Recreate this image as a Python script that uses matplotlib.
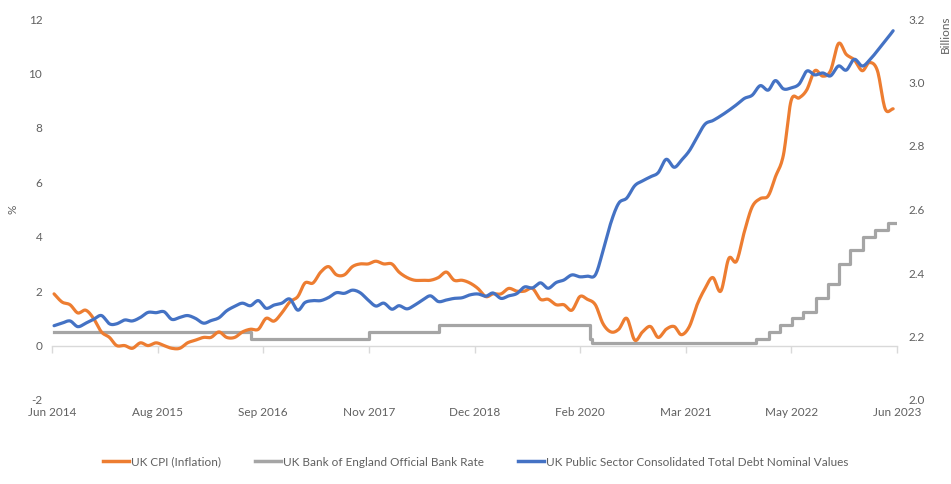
import numpy as np
import pandas as pd
import matplotlib
matplotlib.use('Agg')
import matplotlib.pyplot as plt
import matplotlib.dates as mdates
from matplotlib.lines import Line2D

# ---------------- data ----------------
months = pd.date_range('2014-06-30', periods=108, freq='ME')

cpi = [1.9, 1.6, 1.5, 1.2, 1.3, 1.0, 0.5,
       0.3, 0.0, 0.0, -0.1, 0.1, 0.0, 0.1, 0.0, -0.1, -0.1, 0.1, 0.2,
       0.3, 0.3, 0.5, 0.3, 0.3, 0.5, 0.6, 0.6, 1.0, 0.9, 1.2, 1.6,
       1.8, 2.3, 2.3, 2.7, 2.9, 2.6, 2.6, 2.9, 3.0, 3.0, 3.1, 3.0,
       3.0, 2.7, 2.5, 2.4, 2.4, 2.4, 2.5, 2.7, 2.4, 2.4, 2.3, 2.1,
       1.8, 1.9, 1.9, 2.1, 2.0, 2.0, 2.1, 1.7, 1.7, 1.5, 1.5, 1.3,
       1.8, 1.7, 1.5, 0.8, 0.5, 0.6, 1.0, 0.2, 0.5, 0.7, 0.3, 0.6,
       0.7, 0.4, 0.7, 1.5, 2.1, 2.5, 2.0, 3.2, 3.1, 4.2, 5.1, 5.4,
       5.5, 6.2, 7.0, 9.0, 9.1, 9.4, 10.1, 9.9, 10.1, 11.1, 10.7, 10.5,
       10.1, 10.4, 10.1, 8.7, 8.7]

debt = [2.234, 2.242, 2.249, 2.231, 2.242, 2.254, 2.266, 2.240, 2.240, 2.252,
        2.249, 2.260, 2.276, 2.275, 2.278, 2.254, 2.260, 2.266, 2.257, 2.242,
        2.250, 2.259, 2.281, 2.295, 2.305, 2.297, 2.313, 2.289, 2.299, 2.305,
        2.318, 2.283, 2.307, 2.313, 2.313, 2.323, 2.338, 2.336, 2.346, 2.338,
        2.315, 2.296, 2.305, 2.286, 2.297, 2.287, 2.299, 2.315, 2.328, 2.310,
        2.315, 2.320, 2.322, 2.331, 2.334, 2.327, 2.337, 2.320, 2.328, 2.335,
        2.356, 2.353, 2.369, 2.352, 2.370, 2.378, 2.394, 2.388, 2.390, 2.394,
        2.470, 2.560, 2.620, 2.636, 2.675, 2.690, 2.703, 2.716, 2.758, 2.733,
        2.755, 2.785, 2.828, 2.869, 2.880, 2.895, 2.912, 2.930, 2.950, 2.960,
        2.990, 2.976, 3.006, 2.980, 2.983, 2.995, 3.036, 3.024, 3.030, 3.021,
        3.052, 3.039, 3.073, 3.052, 3.070, 3.100, 3.130, 3.163]

rate_dates = ['2014-06-30', '2016-08-04', '2017-11-02', '2018-08-02', '2020-03-11',
              '2020-03-19', '2021-12-16', '2022-02-03', '2022-03-17', '2022-05-05',
              '2022-06-16', '2022-08-04', '2022-09-22', '2022-11-03', '2022-12-15',
              '2023-02-02', '2023-03-23', '2023-05-11', '2023-06-15']
rate_values = [0.5, 0.25, 0.5, 0.75, 0.25, 0.1, 0.25, 0.5, 0.75, 1.0,
               1.25, 1.75, 2.25, 3.0, 3.5, 4.0, 4.25, 4.5, 4.5]

x_labels = ['Jun 2014', 'Aug 2015', 'Sep 2016', 'Nov 2017', 'Dec 2018',
            'Feb 2020', 'Mar 2021', 'May 2022', 'Jun 2023']
x_start, x_end = '2014-06-22', '2023-06-15'

left_ticks = [-2, 0, 2, 4, 6, 8, 10, 12]
right_ticks = [2.0, 2.2, 2.4, 2.6, 2.8, 3.0, 3.2]

series_names = ['UK CPI (Inflation)', 'UK Bank of England Official Bank Rate',
                'UK Public Sector Consolidated Total Debt Nominal Values']

# ---------------- style ----------------
ORANGE = '#ED7D31'
GREY = '#A5A5A5'
BLUE = '#4472C4'
TXT = '#606060'
FS = 8.5
plt.rcParams['font.family'] = ['Lato', 'DejaVu Sans']


def smooth(xv, yv, n=12):
    """Excel-like smoothed line (Catmull-Rom) for rendering."""
    xv = np.asarray(xv, float)
    yv = np.asarray(yv, float)
    px = np.concatenate([[2 * xv[0] - xv[1]], xv, [2 * xv[-1] - xv[-2]]])
    py = np.concatenate([[2 * yv[0] - yv[1]], yv, [2 * yv[-1] - yv[-2]]])
    outx, outy = [], []
    t = np.linspace(0, 1, n, endpoint=False)
    h00 = 2 * t**3 - 3 * t**2 + 1
    h10 = t**3 - 2 * t**2 + t
    h01 = -2 * t**3 + 3 * t**2
    h11 = t**3 - t**2
    for i in range(1, len(px) - 2):
        mx0 = (px[i + 1] - px[i - 1]) / 2
        mx1 = (px[i + 2] - px[i]) / 2
        my0 = (py[i + 1] - py[i - 1]) / 2
        my1 = (py[i + 2] - py[i]) / 2
        outx.append(h00 * px[i] + h10 * mx0 + h01 * px[i + 1] + h11 * mx1)
        outy.append(h00 * py[i] + h10 * my0 + h01 * py[i + 1] + h11 * my1)
    outx.append([px[-2]])
    outy.append([py[-2]])
    return np.concatenate(outx), np.concatenate(outy)


fig = plt.figure(figsize=(9.51, 4.84), dpi=100)
ax = fig.add_axes([52 / 951, 1 - 400 / 484, 845 / 951, 381 / 484])
ax2 = ax.twinx()

xm = mdates.date2num(months)
sx, sy = smooth(xm, cpi)
ax.plot(sx, sy, color=ORANGE, lw=2.3, solid_capstyle='round', zorder=3)
ax.step(mdates.date2num(pd.to_datetime(rate_dates)), rate_values, where='post',
        color=GREY, lw=2.3, zorder=2)
bx, by = smooth(xm, debt)
ax2.plot(bx, by, color=BLUE, lw=2.3, solid_capstyle='round', zorder=3)

# axes limits
x0, x1 = mdates.date2num(pd.to_datetime([x_start, x_end]))
ax.set_xlim(x0, x1)
ax.set_ylim(-2, 12)
ax2.set_ylim(2.0, 3.2)

ticks = np.linspace(x0, x1, len(x_labels))
ax.set_xticks(ticks)
ax.set_xticklabels(x_labels)

for s in ['top', 'right', 'left']:
    ax.spines[s].set_visible(False)
    ax2.spines[s].set_visible(False)
ax2.spines['bottom'].set_visible(False)
ax.spines['bottom'].set_position(('data', 0))
ax.spines['bottom'].set_color('#D9D9D9')
ax.spines['bottom'].set_linewidth(1.0)
ax.spines['bottom'].set_zorder(1)
ax.tick_params(axis='x', length=5, width=1.0, color='#D9D9D9', labelbottom=False)

# x labels shown "low" via the twin axis
ax2.xaxis.set_visible(True)
ax2.tick_params(axis='x', length=0, labelbottom=True, labeltop=False,
                labelsize=FS, labelcolor=TXT, pad=5)

ax.set_yticks(left_ticks)
ax.set_yticklabels([str(v) for v in left_ticks])
ax.tick_params(axis='y', length=0, labelsize=FS, labelcolor=TXT, pad=7)
ax2.set_yticks(right_ticks)
ax2.set_yticklabels([f'{v:.1f}' for v in right_ticks])
ax2.tick_params(axis='y', length=0, labelsize=FS, labelcolor=TXT, pad=8)

ax.set_ylabel('%', color=TXT, fontsize=FS)
ax.yaxis.set_label_coords(-0.040, 0.5)
ax2.set_ylabel('Billions', color=TXT, fontsize=FS, loc='top')
ax2.yaxis.set_label_coords(1.051, 1.01)

handles = [Line2D([], [], color=c, lw=2.5) for c in (ORANGE, GREY, BLUE)]
fig.legend(handles, series_names, loc='center', bbox_to_anchor=(0.5, 1 - 462 / 484),
           ncol=3, frameon=False, fontsize=FS, labelcolor=TXT, handlelength=2.2,
           handletextpad=0.15, columnspacing=2.9)

fig.savefig('out.png', dpi=100)
